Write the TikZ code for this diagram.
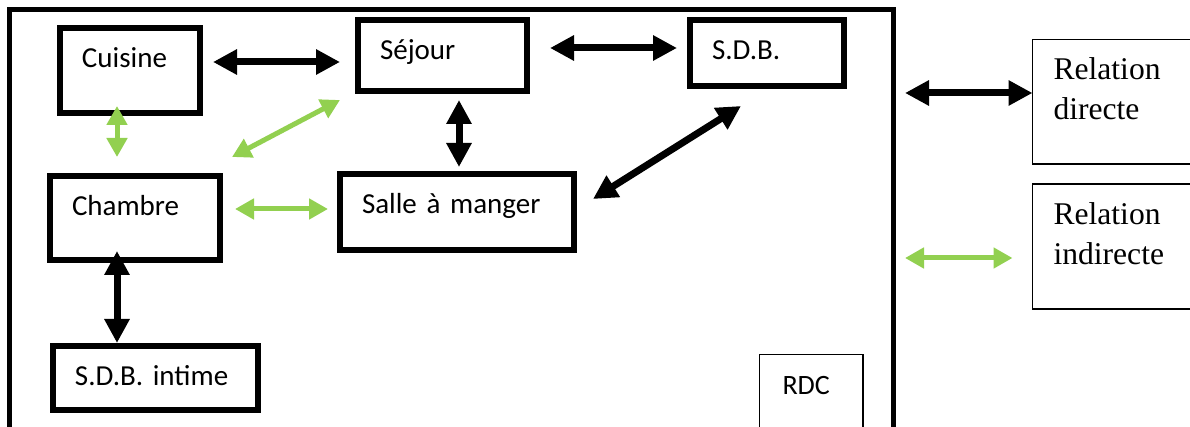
\documentclass[tikz,border=0pt]{standalone}
\usepackage{fontspec}
\usetikzlibrary{arrows.meta, calc}
\newfontfamily\roomfont{Carlito}
\newfontfamily\legendfont{Liberation Serif}
\definecolor{relgreen}{HTML}{92D050}
\definecolor{reldark}{HTML}{000000}

\begin{document}
\begin{tikzpicture}[
    x=0.5pt, y=-0.5pt,
    % ── shared styles ──
    room/.style={draw=reldark, line width=2.8pt, outer sep=0pt, anchor=north west,
        inner xsep=11pt, inner ysep=0pt, text height=20pt, align=left,
        font=\roomfont\fontsize{14.5pt}{17pt}\selectfont, text width=#1},
    level tag/.style={draw=reldark, line width=0.6pt, outer sep=0pt, anchor=north west,
        inner xsep=11.5pt, inner ysep=0pt, text height=20pt, text depth=40pt,
        align=left, font=\roomfont\fontsize{14pt}{17pt}\selectfont, text width=#1},
    legend box/.style={draw=reldark, line width=0.75pt, outer sep=0pt, anchor=north west,
        inner xsep=10.5pt, inner ysep=0pt, text height=20.25pt, align=left,
        font=\legendfont\fontsize{15.8pt}{20pt}\selectfont, text width=#1},
    direct/.style={>={Triangle[length=12pt, width=12pt]}, <->,
        draw=reldark, line width=3.5pt},
    indirect/.style={>={Triangle[length=9.5pt, width=10pt]}, <->,
        draw=relgreen, line width=2.5pt},
]
\clip (0,0) rectangle (1190,427);

% ══════════════════════════════════════════════════════════════════════
%  RDC FRAME
% ══════════════════════════════════════════════════════════════════════
\draw[reldark, line width=2.2pt] (9.5,9.5) rectangle (893.5,460);
\node[level tag=28.75pt] (rdc) at (759.5,354.5) {RDC};

% ── rooms ──
\node[room=48pt,   text depth=22.5pt] (cuisine) at (60,28)   {Cuisine};
\node[room=62.5pt, text depth=15.5pt] (sejour)  at (358,20)  {Séjour};
\node[room=55pt,   text depth=13pt]   (sdb)     at (690,20)  {S.D.B.};
\node[room=63pt,   text depth=22pt]   (chambre) at (50,176)  {Chambre};
\node[room=95pt,   text depth=18pt]   (salle)   at (340,174) {Salle à manger};
\node[room=80.5pt, text depth=12pt]   (intime)  at (53,346)  {S.D.B. intime};

% ══════════════════════════════════════════════════════════════════════
%  RELATIONS
% ══════════════════════════════════════════════════════════════════════
\draw[direct, shorten <=6.5pt, shorten >=9pt]
    ([yshift=4.25pt]cuisine.east) -- ([yshift=-3.25pt]sejour.west);
\draw[direct, shorten <=11.5pt, shorten >=6.5pt]
    ([yshift=3.75pt]sejour.east) -- ([yshift=2.5pt]sdb.west);
\draw[direct, shorten <=4.5pt, shorten >=3.5pt]
    ([xshift=8.25pt]sejour.south) -- ([xshift=1pt]salle.north);
\draw[direct]
    ([xshift=9.5pt, yshift=6.5pt]salle.east) -- ([xshift=-13pt, yshift=-10pt]sdb.south);
\draw[direct]
    ([xshift=-9pt, yshift=4.5pt]chambre.south) -- ([xshift=-19.25pt, yshift=1.5pt]intime.north);

\draw[indirect]
    ([xshift=-6.5pt, yshift=3.5pt]cuisine.south) -- ([xshift=-9pt, yshift=9.5pt]chambre.north);
\draw[indirect]
    ([xshift=6pt, yshift=9.5pt]chambre.north east) -- ([xshift=-9pt, yshift=-4.5pt]sejour.south west);
\draw[indirect, shorten <=7.5pt, shorten >=6pt]
    ([yshift=4.5pt]chambre.east) -- ([yshift=1.5pt]salle.west);

% ══════════════════════════════════════════════════════════════════════
%  LEGEND
% ══════════════════════════════════════════════════════════════════════
\node[legend box=100pt, text depth=42pt]    (dirbox) at (1032.5,39.5) {Relation\\directe};
\node[legend box=100pt, text depth=42.25pt] (indbox) at (1032.5,184)  {Relation\\indirecte};

\coordinate (dirtail) at (905,93);
\coordinate (indtail) at (905,258);
\draw[direct] (dirtail) -- (dirtail -| dirbox.west);
\draw[indirect, shorten >=10pt] (indtail) -- (indtail -| indbox.west);

\end{tikzpicture}
\end{document}
